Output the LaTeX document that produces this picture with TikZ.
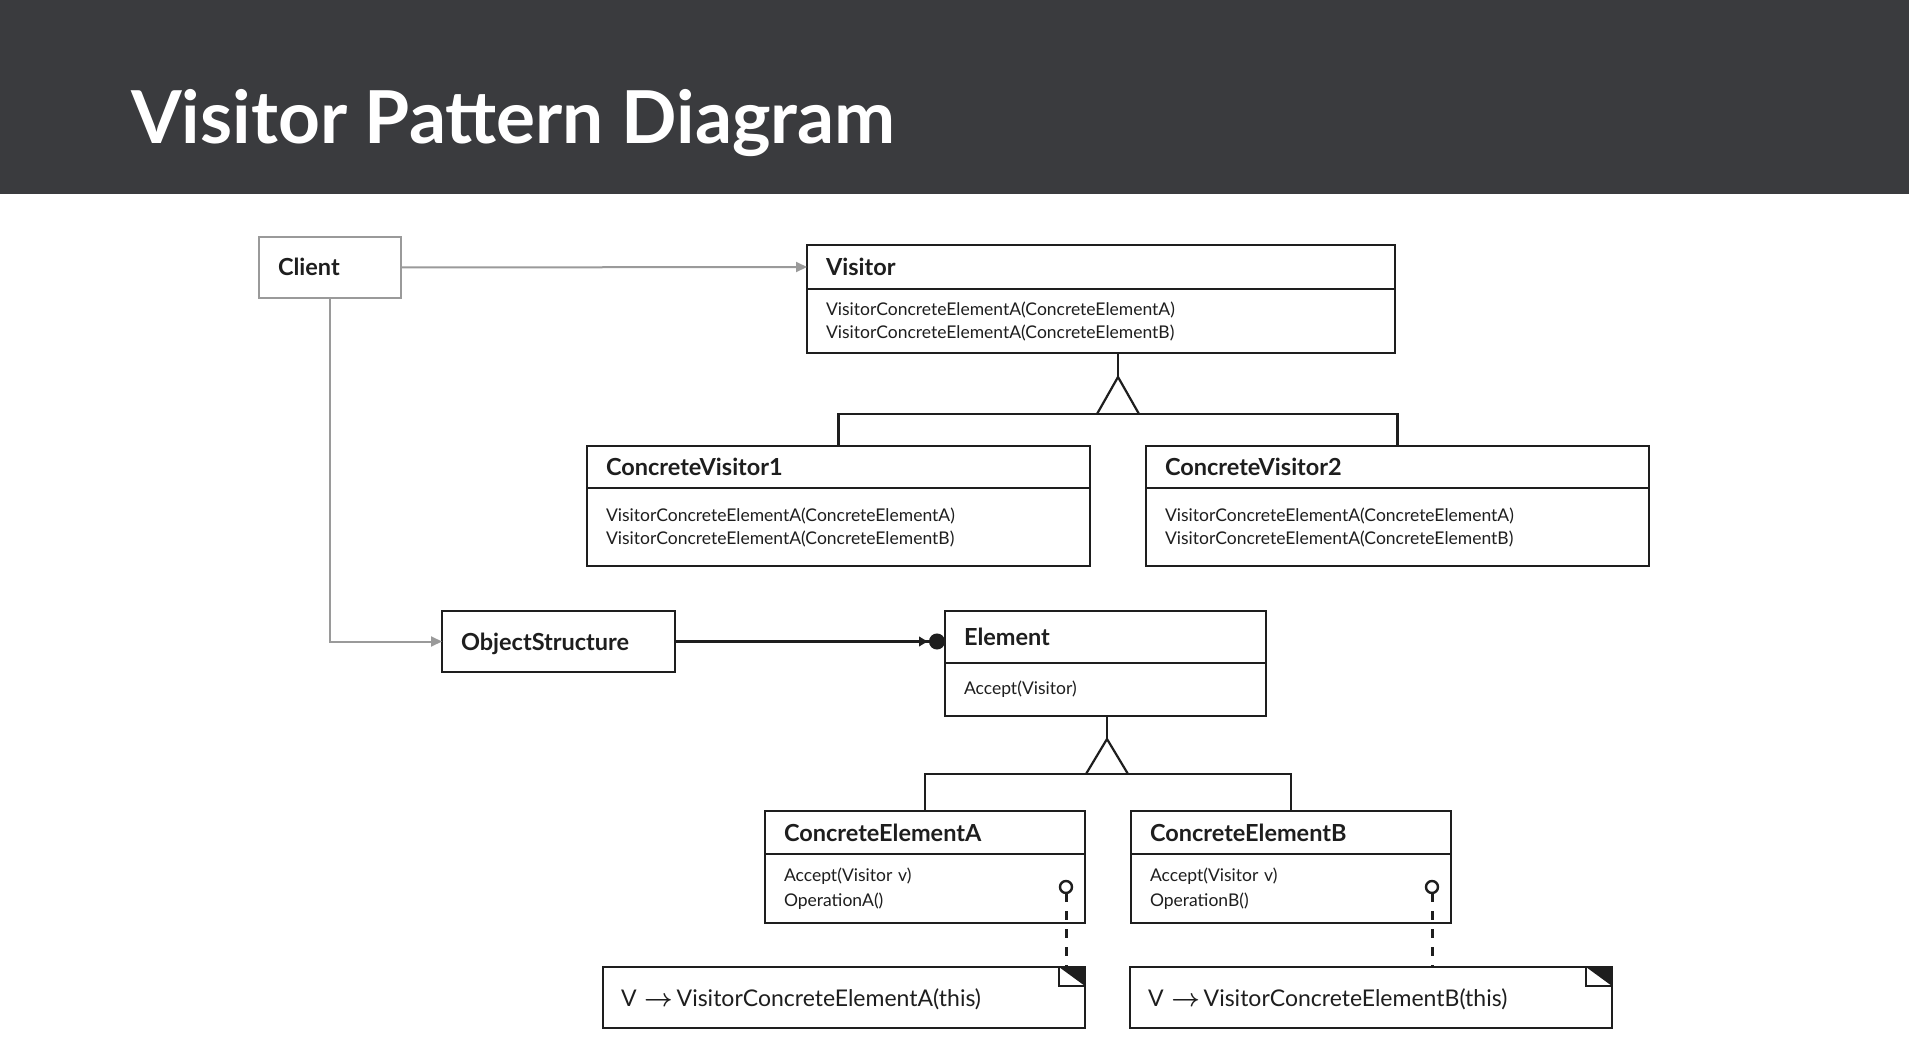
\documentclass[tikz,border=0pt]{standalone}
\usepackage{fontspec}
\setmainfont{Lato}
\usetikzlibrary{arrows.meta, positioning}
\definecolor{Bar}{HTML}{3A3B3E}
\definecolor{Ink}{HTML}{1E1E1E}
\definecolor{Grey}{HTML}{9A9A9A}

\begin{document}
\begin{tikzpicture}[
  x=1pt, y=-1pt,
  box/.style={draw=Ink, line width=2.2pt, outer sep=0pt, inner xsep=19pt, inner ysep=0pt, anchor=north west, align=left, text=Ink},
  head/.style={box, font=\fontsize{23.5}{26}\selectfont\bfseries, text height=17pt, text depth=0pt},
  body/.style={box, font=\fontsize{17.5}{23}\selectfont},
  client/.style={head, draw=Grey},
  note/.style={box, inner xsep=18pt, font=\fontsize{23}{26}\selectfont, text height=17pt, text depth=0pt},
  greyarrow/.style={draw=Grey, line width=2pt, -{Triangle[length=11pt, width=10pt]}},
  edge/.style={draw=Ink, line width=2.2pt},
  lolly/.style={circle, draw=Ink, line width=2.4pt, minimum size=12pt, inner sep=0pt, outer sep=0pt},
  realize/.style={draw=Ink, line width=3pt, dash pattern=on 9pt off 9pt}
]
\useasboundingbox (0,0) rectangle (1909,1040);
\fill[white] (0,0) rectangle (1909,1040);
\fill[Bar] (0,0) rectangle (1909,194);
\node[anchor=base west, inner sep=0pt, text=white, font=\fontsize{73}{80}\selectfont\bfseries] (title) at (131,144) {Visitor Pattern Diagram};

% visitor side
\node[client, text width=104pt, minimum height=61pt] (client) at (259,237) {Client};
\node[head, text width=550pt, minimum height=44pt] (visitor) at (807,245) {Visitor};
\node[body, text width=550pt, minimum height=64pt, below=0pt of visitor.south west, anchor=north west] (visitorm) {VisitorConcreteElementA(ConcreteElementA)\\VisitorConcreteElementA(ConcreteElementB)};

\node[head, text width=465pt, minimum height=42pt] (cv1) at (587,446) {ConcreteVisitor1};
\node[body, text width=465pt, minimum height=78pt, below=0pt of cv1.south west, anchor=north west] (cv1m) {VisitorConcreteElementA(ConcreteElementA)\\VisitorConcreteElementA(ConcreteElementB)};
\node[head, text width=465pt, minimum height=42pt] (cv2) at (1146,446) {ConcreteVisitor2};
\node[body, text width=465pt, minimum height=78pt, below=0pt of cv2.south west, anchor=north west] (cv2m) {VisitorConcreteElementA(ConcreteElementA)\\VisitorConcreteElementA(ConcreteElementB)};

% element side
\node[head, text width=195pt, minimum height=61pt] (objstruct) at (442,611) {ObjectStructure};
\node[head, text width=283pt, minimum height=52pt] (element) at (945,611) {Element};
\node[body, text width=283pt, minimum height=53pt, below=0pt of element.south west, anchor=north west] (elementm) {Accept(Visitor)};

\node[head, text width=282pt, minimum height=43pt] (cea) at (765,811) {ConcreteElementA};
\node[body, text width=282pt, minimum height=69pt, font=\fontsize{17.5}{25.5}\selectfont, below=0pt of cea.south west, anchor=north west] (ceam) {Accept(Visitor v)\\OperationA()};
\node[head, text width=282pt, minimum height=43pt] (ceb) at (1131,811) {ConcreteElementB};
\node[body, text width=282pt, minimum height=69pt, font=\fontsize{17.5}{25.5}\selectfont, below=0pt of ceb.south west, anchor=north west] (cebm) {Accept(Visitor v)\\OperationB()};

\node[note, text width=446pt, minimum height=61pt] (noteA) at (603,967) {V {\boldmath$\rightarrow$}\,VisitorConcreteElementA(this)};
\node[note, text width=446pt, minimum height=61pt] (noteB) at (1130,967) {V {\boldmath$\rightarrow$}\,VisitorConcreteElementB(this)};

% connectors
\draw[greyarrow] (client.east) -- (visitor.west);
\draw[greyarrow] (client.south) |- (objstruct.west);
\draw[edge, -{Latex[length=10pt, width=11pt] Circle[length=16pt]}] (objstruct.east) -- (objstruct.east -| element.west);

\coordinate (vfork) at (1118,414);
\draw[edge] (cv1.north) |- (vfork) -| (cv2.north);
\draw[edge, line join=miter] (vfork) ++(-21,0) -- ++(21,-37) -- ++(21,37);
\draw[edge] (vfork) ++(0,-37) -- (vfork |- visitorm.south);

\coordinate (efork) at (1107,774);
\draw[edge] (cea.north) |- (efork) -| (ceb.north);
\draw[edge, line join=miter] (efork) ++(-21,0) -- ++(21,-35) -- ++(21,35);
\draw[edge] (efork) ++(0,-35) -- (efork |- elementm.south);

\node[lolly] (lolA) at (1066,887) {};
\node[lolly] (lolB) at (1432,887) {};
\draw[realize] (lolA.south) -- (lolA.south |- noteA.north);
\draw[realize] (lolB.south) -- (lolB.south |- noteB.north);

% folded corners
\fill[Ink] (noteA.north east) -- ++(-26,0) -- ++(26,19) -- cycle;
\draw[edge] (noteA.north east) ++(-26,0) -- ++(0,19) -- ++(26,0);
\fill[Ink] (noteB.north east) -- ++(-26,0) -- ++(26,19) -- cycle;
\draw[edge] (noteB.north east) ++(-26,0) -- ++(0,19) -- ++(26,0);
\end{tikzpicture}
\end{document}
